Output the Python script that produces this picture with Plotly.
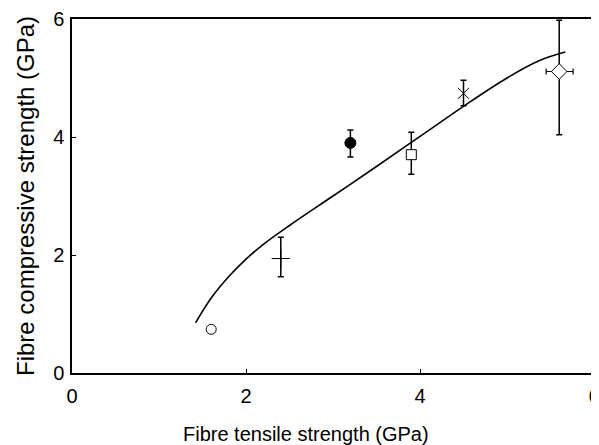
import plotly.graph_objects as go

# Data points (fibre types)
tensile = [1.60, 2.40, 3.20, 3.90, 4.50, 5.60]
compressive = [0.74, 1.94, 3.90, 3.70, 4.74, 5.11]
yerr_plus = [0.0, 0.36, 0.22, 0.38, 0.22, 0.87]
yerr_minus = [0.0, 0.31, 0.24, 0.33, 0.21, 1.07]
xerr_plus = [0.0, 0.0, 0.0, 0.0, 0.0, 0.16]
xerr_minus = [0.0, 0.0, 0.0, 0.0, 0.0, 0.15]
symbols = ["circle-open", "cross-thin-open", "circle", "square", "x-thin-open", "diamond"]
fills = ["black", "black", "black", "white", "black", "white"]
sizes = [10, 13, 11, 10, 11, 12]

# Model curve
curve_x = [1.42, 1.60, 1.80, 2.00, 2.20, 2.50, 3.00, 3.50, 4.00, 4.50, 5.00, 5.38, 5.67]
curve_y = [0.85, 1.27, 1.63, 1.93, 2.18, 2.50, 3.00, 3.50, 4.01, 4.52, 5.00, 5.30, 5.44]

x_ticks = [0, 2, 4, 6]
y_ticks = [0, 2, 4, 6]

fig = go.Figure()
fig.add_trace(go.Scatter(
    x=curve_x, y=curve_y, mode="lines",
    line=dict(color="black", width=1.6, shape="spline", smoothing=1.0),
    showlegend=False, hoverinfo="skip"))

for i in range(len(tensile)):
    has_y = yerr_plus[i] > 0 or yerr_minus[i] > 0
    has_x = xerr_plus[i] > 0 or xerr_minus[i] > 0
    fig.add_trace(go.Scatter(
        x=[tensile[i]], y=[compressive[i]], mode="markers",
        marker=dict(symbol=symbols[i], color=fills[i], size=sizes[i],
                    line=dict(color="black", width=1)),
        error_y=dict(type="data", symmetric=False, array=[yerr_plus[i]],
                     arrayminus=[yerr_minus[i]], color="black",
                     thickness=1.5, width=3, visible=has_y),
        error_x=dict(type="data", symmetric=False, array=[xerr_plus[i]],
                     arrayminus=[xerr_minus[i]], color="black",
                     thickness=1.2, width=3, visible=has_x),
        showlegend=False))

font = dict(family="Liberation Sans, Arial, sans-serif", size=20, color="black")
fig.update_layout(
    width=591, height=437,
    margin=dict(l=64, r=5, t=11, b=72, autoexpand=False),
    paper_bgcolor="white", plot_bgcolor="white",
    font=font,
    xaxis=dict(range=[0, 6], tickvals=x_ticks, ticktext=[str(v) for v in x_ticks],
               ticks="inside", ticklen=4, tickcolor="black",
               showline=True, linecolor="black", linewidth=1.5, mirror=True,
               showgrid=False, zeroline=False, ticklabelstandoff=4,
               ticklabeloverflow="allow", automargin=False),
    yaxis=dict(range=[0, 6], tickvals=y_ticks, ticktext=[str(v) for v in y_ticks],
               ticks="inside", ticklen=4, tickcolor="black",
               showline=True, linecolor="black", linewidth=1.5, mirror=True,
               showgrid=False, zeroline=False, ticklabelstandoff=2,
               ticklabeloverflow="allow", automargin=False),
    annotations=[
        dict(text="Fibre tensile strength (GPa)", xref="paper", yref="paper",
             x=0.448, y=-0.172, showarrow=False,
             font=dict(family=font["family"], size=20, color="black"),
             xanchor="center", yanchor="middle"),
        dict(text="Fibre compressive strength (GPa)", xref="paper", yref="paper",
             x=-0.090, y=0.5, showarrow=False,
             font=dict(family=font["family"], size=24, color="black"),
             textangle=-90, xanchor="center", yanchor="middle"),
    ],
)

fig.write_html("out.html")
